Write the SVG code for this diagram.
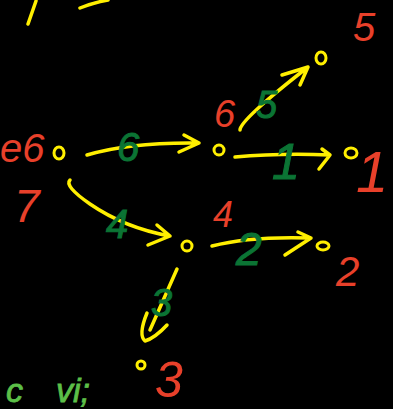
<svg xmlns="http://www.w3.org/2000/svg" width="393" height="409" viewBox="0 0 393 409">
<style>
.bg{fill:#000}
.node{fill:none;stroke:#ffef00;stroke-width:3}
.edge{fill:none;stroke:#ffef00;stroke-width:3.5;stroke-linecap:round;stroke-linejoin:round}
.nl{fill:#e8402a;font-family:"Liberation Sans",Arial,sans-serif;font-style:italic}
.wl{fill:#0b7434;font-family:"Liberation Sans",Arial,sans-serif;font-style:italic;stroke:#0b7434;stroke-width:1}
.note{fill:#5cbf48;font-family:"Liberation Sans",Arial,sans-serif;font-style:italic;font-size:34px;stroke:#5cbf48;stroke-width:0.8}
</style>
<rect class="bg" x="0" y="0" width="393" height="409"/>
<g id="scribbles">
<path class="edge" d="M28,24 L36,1"/>
<path class="edge" d="M80,8 Q92,3 108,0"/>
</g>
<g id="node7">
<ellipse class="node" cx="59" cy="153" rx="5" ry="6"/>
<text class="nl" x="0" y="162" font-size="40">e6</text>
<text class="nl" x="14" y="222" font-size="46">7</text>
</g>
<g id="node6">
<ellipse class="node" cx="219" cy="150" rx="5" ry="5"/>
<text class="nl" x="214" y="127" font-size="38">6</text>
</g>
<g id="node5">
<ellipse class="node" cx="321" cy="58" rx="5" ry="6"/>
<text class="nl" x="353" y="41" font-size="40">5</text>
</g>
<g id="node1">
<ellipse class="node" cx="351" cy="153" rx="6" ry="5"/>
<text class="nl" x="356" y="192" font-size="58">1</text>
</g>
<g id="node4">
<ellipse class="node" cx="187" cy="246" rx="5" ry="5"/>
<text class="nl" x="213" y="227" font-size="36">4</text>
</g>
<g id="node2">
<ellipse class="node" cx="323" cy="246" rx="6" ry="4"/>
<text class="nl" x="336" y="286" font-size="42">2</text>
</g>
<g id="node3">
<ellipse class="node" cx="141" cy="365" rx="4" ry="4"/>
<text class="nl" x="155" y="397" font-size="50">3</text>
</g>
<g id="connectors">
<path class="edge" d="M87,155 Q130,142 199,143 M184,135 L199,143 L179,152"/>
<path class="edge" d="M70,180 Q64,186 90,204 Q125,228 170,236 M157,225 L170,236 L148,245"/>
<path class="edge" d="M240,130 Q240,120 308,67 M282,75 L308,67 L300,85"/>
<path class="edge" d="M235,157 Q280,153 330,155 M322,149 L330,155 L319,169"/>
<path class="edge" d="M212,246 Q250,236 311,238 M298,232 L311,238 L285,255"/>
<path class="edge" d="M177,269 L150,330 M147,313 Q138,335 145,341 Q155,338 167,325"/>
<text class="wl" x="117" y="161" font-size="40">6</text>
<text class="wl" x="106" y="238" font-size="40">4</text>
<text class="wl" x="256" y="118" font-size="38">5</text>
<text class="wl" x="272" y="179" font-size="50">1</text>
<text class="wl" x="236" y="265" font-size="46">2</text>
<text class="wl" x="151" y="316" font-size="38">3</text>
</g>
<g id="note">
<text class="note" x="6" y="402">c</text>
<text class="note" x="56" y="402">vi;</text>
</g>
</svg>
